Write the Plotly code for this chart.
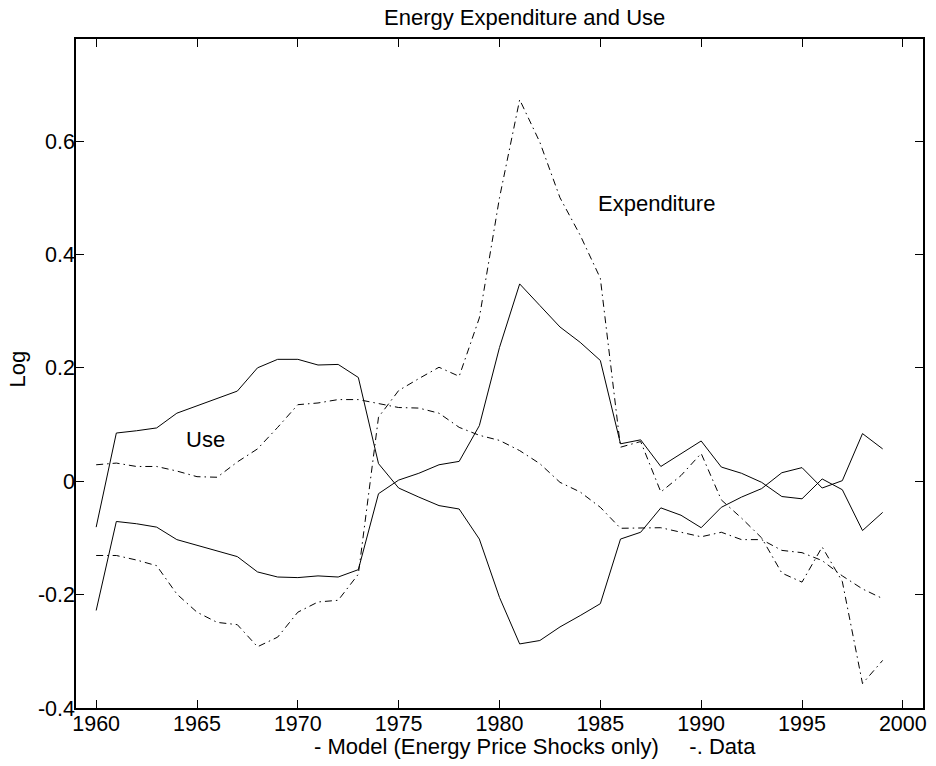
import plotly.graph_objects as go

years = list(range(1960, 2000))

use_model = [-0.081, 0.085, 0.089, 0.094, 0.120, 0.133, 0.145, 0.159, 0.200, 0.215,
             0.215, 0.205, 0.206, 0.183, 0.031, -0.012, -0.028, -0.043, -0.049, -0.102,
             -0.205, -0.287, -0.281, -0.257, -0.237, -0.216, -0.102, -0.090, -0.047, -0.060,
             -0.082, -0.046, -0.028, -0.013, 0.015, 0.024, -0.012, 0.001, 0.084, 0.057]

exp_model = [-0.228, -0.071, -0.075, -0.081, -0.103, -0.113, -0.123, -0.133, -0.160, -0.169,
             -0.170, -0.167, -0.169, -0.156, -0.022, 0.002, 0.014, 0.029, 0.035, 0.098,
             0.236, 0.348, 0.310, 0.272, 0.245, 0.213, 0.066, 0.073, 0.026, 0.048,
             0.071, 0.025, 0.014, -0.002, -0.027, -0.031, 0.004, -0.015, -0.087, -0.055]

use_data = [0.029, 0.032, 0.026, 0.026, 0.018, 0.008, 0.007, 0.034, 0.057, 0.095,
            0.135, 0.138, 0.144, 0.144, 0.137, 0.130, 0.129, 0.120, 0.095, 0.081,
            0.072, 0.054, 0.031, -0.002, -0.019, -0.046, -0.083, -0.082, -0.082, -0.090,
            -0.098, -0.090, -0.103, -0.103, -0.122, -0.126, -0.140, -0.167, -0.190, -0.207]

exp_data = [-0.131, -0.131, -0.139, -0.149, -0.199, -0.231, -0.249, -0.253, -0.292, -0.275,
            -0.231, -0.213, -0.210, -0.164, 0.113, 0.160, 0.181, 0.201, 0.185, 0.288,
            0.500, 0.673, 0.598, 0.500, 0.434, 0.358, 0.060, 0.070, -0.019, 0.010,
            0.049, -0.033, -0.065, -0.100, -0.162, -0.178, -0.116, -0.177, -0.357, -0.316]

x_ticks = [1960, 1965, 1970, 1975, 1980, 1985, 1990, 1995, 2000]
y_ticks = [-0.4, -0.2, 0, 0.2, 0.4, 0.6]
y_tick_labels = ["-0.4", "-0.2", "0", "0.2", "0.4", "0.6"]

title_text = "Energy Expenditure and Use"
xlabel_text = "- Model (Energy Price Shocks only)     -. Data"
ylabel_text = "Log"

FONT = "Liberation Sans, Arial, Helvetica, sans-serif"
DASHDOT = "7px,4px,1.5px,4px"

fig = go.Figure()
for name, vals, dash in [("Use model", use_model, "solid"),
                         ("Expenditure model", exp_model, "solid"),
                         ("Use data", use_data, DASHDOT),
                         ("Expenditure data", exp_data, DASHDOT)]:
    fig.add_trace(go.Scatter(x=years, y=vals, mode="lines", name=name,
                             line=dict(color="black", width=1, dash=dash)))

L, R, T, B = 76, 13, 39, 58
W, H = 936, 766
pw, ph = W - L - R, H - T - B

axis_common = dict(showgrid=False, zeroline=False, showline=True, linecolor="black",
                   linewidth=1.5, mirror="allticks", ticks="inside", ticklen=8,
                   tickwidth=1, tickcolor="black", automargin=False,
                   tickfont=dict(family=FONT, size=21.5, color="black"))

fig.update_layout(
    width=W, height=H,
    margin=dict(l=L, r=R, t=T, b=B),
    paper_bgcolor="white", plot_bgcolor="white",
    showlegend=False,
    font=dict(family=FONT, color="black"),
    xaxis=dict(range=[1959, 2001], tickvals=x_ticks, ticklabelstandoff=-5, **axis_common),
    yaxis=dict(range=[-0.4, 0.78], tickvals=y_ticks, ticktext=y_tick_labels,
               ticklabelstandoff=-5, **axis_common),
)

def px_x(px):
    return (px - L) / pw

def px_y(py):
    return (H - B - py) / ph

fig.add_annotation(text=title_text, xref="paper", yref="paper",
                   x=px_x(524.5), y=px_y(17), xanchor="center", yanchor="middle",
                   showarrow=False, font=dict(family=FONT, size=22, color="black"))
fig.add_annotation(text=xlabel_text, xref="paper", yref="paper",
                   x=px_x(534.5), y=px_y(746), xanchor="center", yanchor="middle",
                   showarrow=False, font=dict(family=FONT, size=22, color="black"))
fig.add_annotation(text=ylabel_text, xref="paper", yref="paper", textangle=-90,
                   x=px_x(17), y=px_y(369.5), xanchor="center", yanchor="middle",
                   showarrow=False, font=dict(family=FONT, size=22, color="black"))
fig.add_annotation(text="Expenditure", x=1984.8, y=0.49, xanchor="left", yanchor="middle",
                   showarrow=False, font=dict(family=FONT, size=22, color="black"))
fig.add_annotation(text="Use", x=1964.35, y=0.073, xanchor="left", yanchor="middle",
                   showarrow=False, font=dict(family=FONT, size=22, color="black"))

fig.write_html("out.html", config={"displayModeBar": False},
               post_script="document.body.style.margin='0';document.body.style.padding='0';")
